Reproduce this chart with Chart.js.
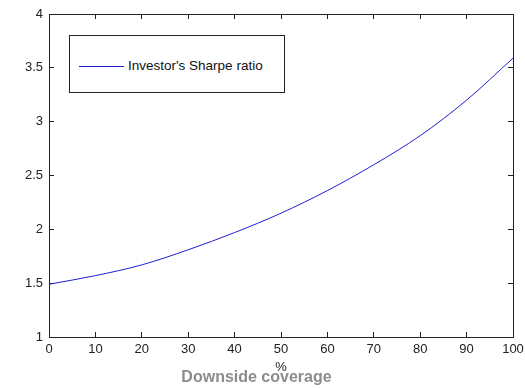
<!DOCTYPE html>
<html>
<head>
<meta charset="utf-8">
<script src="https://cdn.jsdelivr.net/npm/chart.js@4.4.1/dist/chart.umd.min.js"></script>
<style>
  body { margin: 0; background: #fff; }
  #wrap { position: relative; width: 525px; height: 388px; }
  #legend {
    position: absolute; left: 69px; top: 35px; width: 216px; height: 58px;
    box-sizing: border-box; border: 1px solid #222; background: #fff;
    font-family: "Liberation Sans", Arial, sans-serif; font-size: 13.5px; color: #111;
  }
  #legend .swatch { position: absolute; left: 9px; top: 30px; width: 45px; height: 1px; }
  #legend .lbl { position: absolute; left: 58px; top: 22px; white-space: nowrap; }
</style>
</head>
<body>
<div id="wrap">
  <canvas id="c" width="525" height="388"></canvas>
  <div id="legend"></div>
</div>
<script>
// values
const coverage = [0, 10, 20, 30, 40, 50, 60, 70, 80, 90, 100];
const sharpe = [1.49, 1.57, 1.67, 1.81, 1.97, 2.15, 2.36, 2.60, 2.87, 3.20, 3.59];
const seriesName = "Investor's Sharpe ratio";
const xTitle = '%';
const caption = 'Downside coverage';

const lineColor = '#1f1fd0';
const axisColor = '#222';
const font = { family: '"Liberation Sans", Arial, sans-serif', size: 13 };

// MATLAB style: short ticks pointing into the box, on all four sides
function boxAxis(extra) {
  return Object.assign({
    grid: { drawOnChartArea: false, tickLength: -5, color: axisColor },
    border: { color: axisColor, width: 1 }
  }, extra);
}

// fixed axis sizes, no extra room for overhanging labels
function fixSize(w, h) {
  return s => {
    if (w !== null) s.width = w;
    if (h !== null) s.height = h;
    s.paddingLeft = s.paddingRight = s.paddingTop = s.paddingBottom = 0;
  };
}

const chart = new Chart(document.getElementById('c'), {
  type: 'line',
  data: {
    datasets: [{
      label: seriesName,
      data: coverage.map((x, i) => ({ x, y: sharpe[i] })),
      borderColor: lineColor,
      borderWidth: 1,
      pointRadius: 0,
      cubicInterpolationMode: 'monotone',
      fill: false
    }]
  },
  options: {
    responsive: false,
    animation: false,
    layout: { padding: { top: 14, right: 12, left: 0, bottom: 0 } },
    plugins: {
      legend: { display: false },
      tooltip: { enabled: false },
      title: {
        display: true,
        position: 'bottom',
        text: caption,
        color: '#8c8c8c',
        font: { family: font.family, size: 16, weight: 'bold', lineHeight: 1 },
        padding: { top: 0, bottom: 2 }
      }
    },
    scales: {
      x: boxAxis({
        type: 'linear', position: 'bottom', min: 0, max: 100,
        ticks: { stepSize: 10, color: axisColor, font, padding: 10, maxRotation: 0 },
        title: { display: true, text: xTitle, color: axisColor, font: { family: font.family, size: 13, lineHeight: 1 }, padding: { top: 0, bottom: -3.5 } },
        afterFit: fixSize(null, 33)
      }),
      x2: boxAxis({
        type: 'linear', position: 'top', min: 0, max: 100,
        ticks: { stepSize: 10, display: false },
        afterFit: fixSize(null, 0)
      }),
      y: boxAxis({
        type: 'linear', position: 'left', min: 1, max: 4,
        ticks: { stepSize: 0.5, color: axisColor, font, padding: 11, callback: v => String(v) },
        afterFit: fixSize(49, null)
      }),
      y2: boxAxis({
        type: 'linear', position: 'right', min: 1, max: 4,
        ticks: { stepSize: 0.5, display: false },
        afterFit: fixSize(0, null)
      })
    }
  }
});

// legend box inside the axes, as in the original figure
const ds = chart.data.datasets[0];
document.getElementById('legend').innerHTML =
  '<span class="swatch" style="background:' + ds.borderColor + '"></span>' +
  '<span class="lbl">' + ds.label + '</span>';
</script>
</body>
</html>
